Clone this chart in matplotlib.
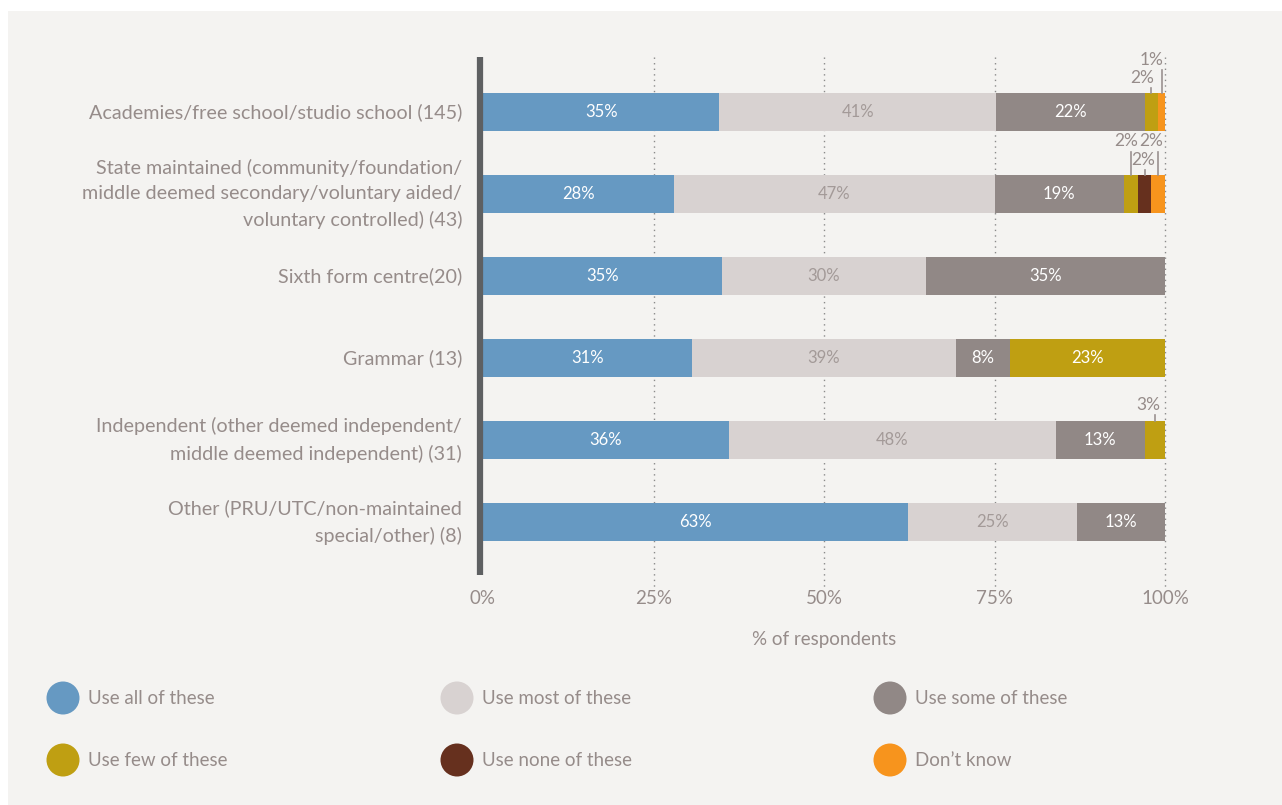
import numpy as np
import matplotlib.pyplot as plt
from matplotlib.patches import Rectangle, Circle

plt.rcParams['font.family'] = ['Lato', 'DejaVu Sans']

# school types (number of respondents in brackets)
categories = [
    "Academies/free school/studio school (145)",
    "State maintained (community/foundation/\nmiddle deemed secondary/voluntary aided/\nvoluntary controlled) (43)",
    "Sixth form centre(20)",
    "Grammar (13)",
    "Independent (other deemed independent/\nmiddle deemed independent) (31)",
    "Other (PRU/UTC/non-maintained\nspecial/other) (8)",
]
series = ["Use all of these", "Use most of these", "Use some of these",
          "Use few of these", "Use none of these", "Don\u2019t know"]

use_all = [35, 28, 35, 31, 36, 63]
use_most = [41, 47, 30, 39, 48, 25]
use_some = [22, 19, 35, 8, 13, 13]
use_few = [2, 2, 0, 23, 3, 0]
use_none = [0, 2, 0, 0, 0, 0]
dont_know = [1, 2, 0, 0, 0, 0]

xticks = [0, 25, 50, 75, 100]
xticklabels = ["0%", "25%", "50%", "75%", "100%"]

colors = ["#6699c2", "#d8d2d1", "#918886", "#bf9f12", "#66301e", "#f7941d"]
label_colors = ["white", "#a39a98", "white", "white", "white", "white"]
text_col = "#968c8a"
bg = "#f4f3f1"

# small segments labelled above the bar: (row, segment, text dx px, text dy px, line top px)
callouts = [
    (0, 3, -9, 15, 5),
    (0, 5, -10, 33, 23),
    (1, 3, -5, 34, 23),
    (1, 4, -1, 15, 5),
    (1, 5, -7, 34, 23),
    (4, 3, -6, 16, 6),
]

W, H = 1282, 805
fig = plt.figure(figsize=(W / 100, H / 100), dpi=100, facecolor="white")

# page canvas in pixel units for background and legend
canvas = fig.add_axes([0, 0, 1, 1], zorder=0)
canvas.set_xlim(0, W)
canvas.set_ylim(H, 0)
canvas.axis("off")
canvas.add_patch(Rectangle((8, 11), W - 8, H - 11, color=bg, lw=0))

# main axes: x 483..1165 px, y 57..575 px
ax_l, ax_r, ax_t, ax_b = 483, 1165, 57, 575
ax = fig.add_axes([ax_l / W, 1 - ax_b / H, (ax_r - ax_l) / W, (ax_b - ax_t) / H], zorder=1)
ax.patch.set_visible(False)

row_px = 82.0
first_px = 112.0
ax.set_ylim((ax_b - first_px) / row_px, (ax_t - first_px) / row_px)
ax.set_xlim(0, 100)
px_x = 100.0 / (ax_r - ax_l)
px_y = 1.0 / row_px

data = np.array([use_all, use_most, use_some, use_few, use_none, dont_know], dtype=float).T
shares = data / data.sum(axis=1, keepdims=True) * 100
ypos = np.arange(len(categories))
bar_h = 38 * px_y

# dotted gridlines
for x in xticks[1:]:
    ax.plot([x, x], [ax.get_ylim()[1], (590 - first_px) / row_px], color="#8a8a8a",
            lw=1, ls=(0, (1, 3)), clip_on=False, zorder=0)

left = np.zeros(len(categories))
for j in range(len(series)):
    ax.barh(ypos, shares[:, j], left=left, height=bar_h, color=colors[j], lw=0, zorder=2)
    for i in range(len(categories)):
        if data[i, j] >= 5:
            ax.text(left[i] + shares[i, j] / 2, ypos[i], f"{int(data[i, j])}%",
                    ha="center", va="center", fontsize=12, color=label_colors[j], zorder=3)
    left += shares[:, j]

for row, seg, dx, dy, ltop in callouts:
    start = shares[row, :seg].sum()
    cx = start + shares[row, seg] / 2
    top = ypos[row] - bar_h / 2
    ax.plot([cx, cx], [top - ltop * px_y, top], color="#9a9190", lw=1.2, clip_on=False, zorder=3)
    ax.text(cx + dx * px_x, top - dy * px_y, f"{int(data[row, seg])}%", ha="center", va="center",
            fontsize=12.5, color=text_col, clip_on=False)

for sp in ["top", "right", "bottom"]:
    ax.spines[sp].set_visible(False)
ax.spines["left"].set_color("#5e6062")
ax.spines["left"].set_linewidth(4.5)
ax.spines["left"].set_position(("outward", 2))
ax.spines["left"].set_capstyle("butt")

ax.set_yticks(ypos)
ax.set_yticklabels(categories, fontsize=14.2, color=text_col, linespacing=1.6)
for lbl in ax.get_yticklabels():
    lbl.set_verticalalignment("center")
ax.tick_params(axis="y", length=0, pad=13)
ax.set_xticks(xticks)
ax.set_xticklabels(xticklabels, fontsize=13.5, color=text_col)
ax.tick_params(axis="x", length=0, pad=11)
ax.set_xlabel("% of respondents", fontsize=13.5, color=text_col, labelpad=17)

# legend
leg_x = [63, 457, 890]
leg_y = [698, 760]
for k, name in enumerate(series):
    cx = leg_x[k % 3]
    cy = leg_y[k // 3]
    canvas.add_patch(Circle((cx, cy), 16.5, color=colors[k], lw=0))
    canvas.text(cx + 25, cy, name, ha="left", va="center", fontsize=13.5, color=text_col)

fig.savefig("out.png", dpi=100, facecolor=fig.get_facecolor())
